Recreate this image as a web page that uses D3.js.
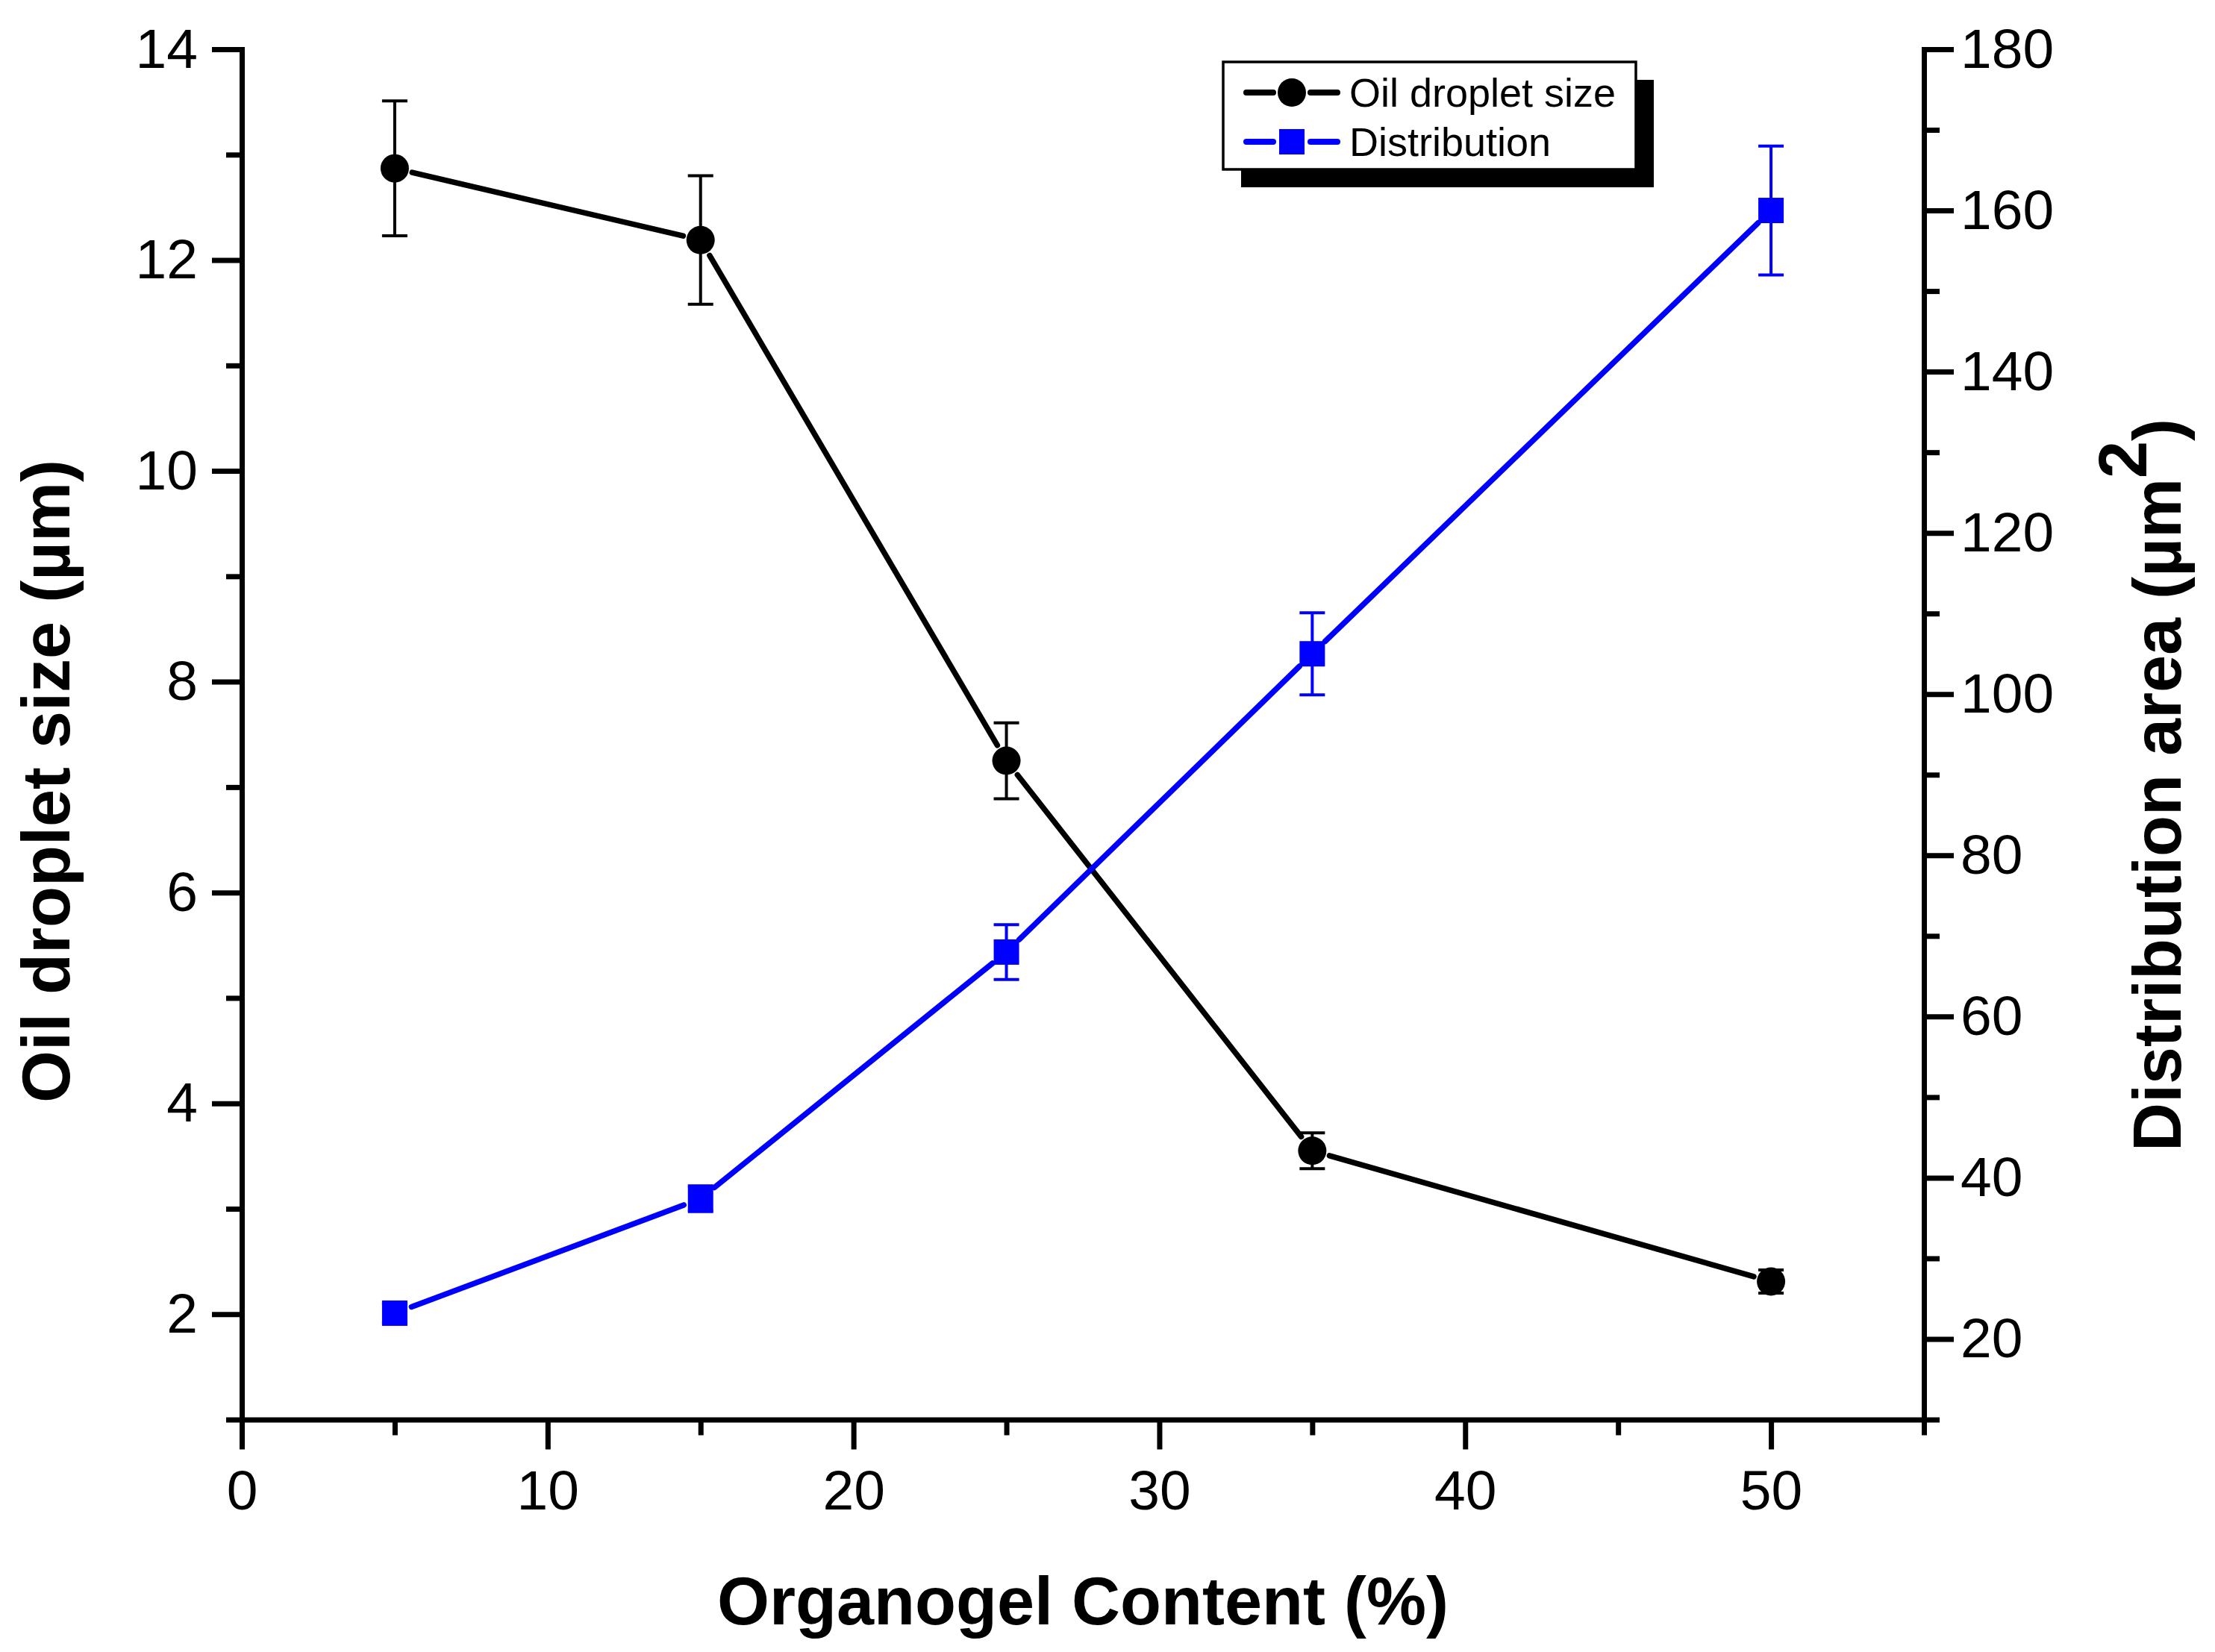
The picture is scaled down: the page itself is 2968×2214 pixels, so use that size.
<!DOCTYPE html>
<html>
<head>
<meta charset="utf-8">
<script src="https://cdn.jsdelivr.net/npm/d3@7"></script>
<style>
body { margin: 0; background: #fff; }
text { font-family: "Liberation Sans", Arial, sans-serif; }
</style>
</head>
<body>
<svg id="chart" width="2968" height="2214"></svg>
<script>
// organogel content (%) on x
var content = [5, 15, 25, 35, 50]
// left axis series
var dropletSize = [12.87, 12.19, 7.25, 3.55, 2.31]
var dropletErr = [0.64, 0.61, 0.36, 0.17, 0.11]
// right axis series
var distArea = [23.2, 37.4, 68.0, 105.0, 160.0]
var distErr = [1.2, 1.6, 3.4, 5.1, 8.0]

var xTicks = [0, 10, 20, 30, 40, 50]
var xMinor = [5, 15, 25, 35, 45, 55]
var leftTicks = [2, 4, 6, 8, 10, 12, 14]
var leftMinor = [1, 3, 5, 7, 9, 11, 13]
var rightTicks = [20, 40, 60, 80, 100, 120, 140, 160, 180]
var rightMinor = [10, 30, 50, 70, 90, 110, 130, 150, 170]

var plotLeft = 324, plotRight = 2578, plotTop = 66, plotBottom = 1902.5
var axisW = 7

var svg = d3.select("#chart")

var xScale = d3.scaleLinear().domain([0, 55]).range([plotLeft, plotRight])
var yLeft = d3.scaleLinear().domain([1, 14]).range([plotBottom, plotTop])
var yRight = d3.scaleLinear().domain([10, 180]).range([plotBottom, plotTop])

function styleAxis(g) {
    g.selectAll("path.domain").attr("stroke-width", axisW).attr("stroke-linecap", "square")
    g.selectAll(".tick line").attr("stroke-width", axisW)
    g.selectAll(".tick text").attr("font-size", 75).attr("fill", "#000")
        .style("font-family", "'Liberation Sans', Arial, sans-serif")
}

function minorAxis(axis, tr) {
    var g = svg.append("g").attr("transform", tr).call(axis.tickFormat("").tickSizeOuter(0))
    g.select("path.domain").remove()
    g.selectAll(".tick line").attr("stroke-width", axisW)
}

// x axis
minorAxis(d3.axisBottom(xScale).tickValues(xMinor).tickSize(21), "translate(0," + plotBottom + ")")
var gx = svg.append("g").attr("transform", "translate(0," + plotBottom + ")")
    .call(d3.axisBottom(xScale).tickValues(xTicks).tickSize(40).tickPadding(27).tickSizeOuter(0))
styleAxis(gx)

// left axis
minorAxis(d3.axisLeft(yLeft).tickValues(leftMinor).tickSize(21), "translate(" + plotLeft + ",0)")
var gl = svg.append("g").attr("transform", "translate(" + plotLeft + ",0)")
    .call(d3.axisLeft(yLeft).tickValues(leftTicks).tickSize(40).tickPadding(19).tickSizeOuter(0))
styleAxis(gl)

// right axis
minorAxis(d3.axisRight(yRight).tickValues(rightMinor).tickSize(21), "translate(" + plotRight + ",0)")
var gr = svg.append("g").attr("transform", "translate(" + plotRight + ",0)")
    .call(d3.axisRight(yRight).tickValues(rightTicks).tickSize(40).tickPadding(9).tickSizeOuter(0))
styleAxis(gr)

// axis titles
svg.append("text")
    .attr("x", (plotLeft + plotRight) / 2).attr("y", 2177)
    .attr("text-anchor", "middle").attr("font-size", 90).attr("font-weight", "bold")
    .text("Organogel Content (%)")

svg.append("text")
    .attr("transform", "translate(93,1047) rotate(-90)")
    .attr("text-anchor", "middle").attr("font-size", 90).attr("font-weight", "bold")
    .text("Oil droplet size (\u00b5m)")

var rt = svg.append("text")
    .attr("transform", "translate(2922,1052) rotate(-90)")
    .attr("text-anchor", "middle").attr("font-size", 90).attr("font-weight", "bold")
rt.append("tspan").text("Distribution area (\u00b5m")
rt.append("tspan").attr("dy", -46).text("2")
rt.append("tspan").attr("dy", 46).text(")")

// series drawing: line segments stop short of the markers, like the original
function drawSeries(xs, ys, errs, yScale, color, shape) {
    var g = svg.append("g")
    var pts = xs.map((d, i) => [xScale(d), yScale(ys[i])])
    var gap = 24
    var segs = d3.pairs(pts).map(p => {
        var dx = p[1][0] - p[0][0], dy = p[1][1] - p[0][1]
        var len = Math.sqrt(dx * dx + dy * dy)
        var ux = dx / len, uy = dy / len
        return [p[0][0] + ux * gap, p[0][1] + uy * gap, p[1][0] - ux * gap, p[1][1] - uy * gap]
    })
    g.selectAll("line.seg").data(segs).enter().append("line")
        .attr("x1", d => d[0]).attr("y1", d => d[1])
        .attr("x2", d => d[2]).attr("y2", d => d[3])
        .attr("stroke", color).attr("stroke-width", 7.5).attr("stroke-linecap", "round")

    var capW = 17
    var eb = g.selectAll("g.err").data(xs).enter().append("g")
    eb.append("line")
        .attr("x1", (d) => xScale(d)).attr("x2", (d) => xScale(d))
        .attr("y1", (d, i) => yScale(ys[i] + errs[i])).attr("y2", (d, i) => yScale(ys[i] - errs[i]))
    eb.append("line")
        .attr("x1", d => xScale(d) - capW).attr("x2", d => xScale(d) + capW)
        .attr("y1", (d, i) => yScale(ys[i] + errs[i])).attr("y2", (d, i) => yScale(ys[i] + errs[i]))
    eb.append("line")
        .attr("x1", d => xScale(d) - capW).attr("x2", d => xScale(d) + capW)
        .attr("y1", (d, i) => yScale(ys[i] - errs[i])).attr("y2", (d, i) => yScale(ys[i] - errs[i]))
    eb.selectAll("line").attr("stroke", color).attr("stroke-width", 4)

    if (shape === "circle") {
        g.selectAll("circle").data(xs).enter().append("circle")
            .attr("cx", d => xScale(d)).attr("cy", (d, i) => yScale(ys[i]))
            .attr("r", 19).attr("fill", color)
    } else {
        g.selectAll("rect").data(xs).enter().append("rect")
            .attr("x", d => xScale(d) - 17).attr("y", (d, i) => yScale(ys[i]) - 17)
            .attr("width", 34).attr("height", 34).attr("fill", color)
    }
}

drawSeries(content, dropletSize, dropletErr, yLeft, "#000", "circle")
drawSeries(content, distArea, distErr, yRight, "#0000ff", "square")

// legend
var lg = svg.append("g")
lg.append("rect").attr("x", 1663).attr("y", 107).attr("width", 553).attr("height", 144).attr("fill", "#000")
lg.append("rect").attr("x", 1639).attr("y", 83).attr("width", 553).attr("height", 144)
    .attr("fill", "#fff").attr("stroke", "#000").attr("stroke-width", 3.5)

var legendItems = [
    { name: "Oil droplet size", color: "#000", shape: "circle", y: 124 },
    { name: "Distribution", color: "#0000ff", shape: "square", y: 190 }
]
legendItems.forEach(it => {
    lg.append("line").attr("x1", 1670).attr("x2", 1706).attr("y1", it.y).attr("y2", it.y)
        .attr("stroke", it.color).attr("stroke-width", 8).attr("stroke-linecap", "round")
    lg.append("line").attr("x1", 1756).attr("x2", 1792).attr("y1", it.y).attr("y2", it.y)
        .attr("stroke", it.color).attr("stroke-width", 8).attr("stroke-linecap", "round")
    if (it.shape === "circle")
        lg.append("circle").attr("cx", 1731).attr("cy", it.y).attr("r", 19).attr("fill", it.color)
    else
        lg.append("rect").attr("x", 1714).attr("y", it.y - 17).attr("width", 34).attr("height", 34).attr("fill", it.color)
    lg.append("text").attr("x", 1808).attr("y", it.y + 19).attr("font-size", 54).text(it.name)
})
</script>
</body>
</html>
